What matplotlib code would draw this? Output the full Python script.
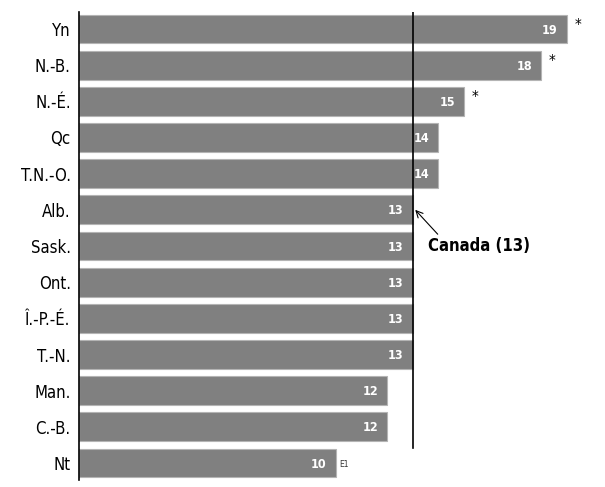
import matplotlib.pyplot as plt

# données
provinces = ['Yn', 'N.-B.', 'N.-É.', 'Qc', 'T.N.-O.', 'Alb.', 'Sask.', 'Ont.',
             'Î.-P.-É.', 'T.-N.', 'Man.', 'C.-B.', 'Nt']
valeurs = [19, 18, 15, 14, 14, 13, 13, 13, 13, 13, 12, 12, 10]
etoiles = ['*', '*', '*', '', '', '', '', '', '', '', '', '', '']
notes = ['', '', '', '', '', '', '', '', '', '', '', '', 'E1']
canada = 13

plt.rcParams['font.family'] = ['DejaVu Sans']
plt.rcParams['font.stretch'] = 'condensed'

fig = plt.figure(figsize=(6.05, 4.87), dpi=100)
ax = fig.add_axes([79 / 605, 7 / 487, 521 / 605, 468 / 487])

pos = list(range(len(provinces)))
ax.barh(pos, valeurs, height=0.8, color='#808080', edgecolor='#b4b4b4', linewidth=0.8)

for i, v in enumerate(valeurs):
    ax.text(v - 0.35, i + 0.03, str(v), color='white', ha='right', va='center',
            fontsize=9, fontweight='bold')
    if etoiles[i]:
        ax.text(v + 0.3, i - 0.1, etoiles[i], color='black', ha='left', va='center', fontsize=11)
    if notes[i]:
        ax.text(v + 0.15, i + 0.05, notes[i], color='#333333', ha='left', va='center', fontsize=6)

ax.plot([canada, canada], [-0.47, 11.58], color='black', lw=1.2)
ax.annotate('Canada (13)', xy=(canada + 0.1, 5), xytext=(canada + 0.6, 6.0),
            fontsize=12, fontweight='bold', ha='left', va='center',
            arrowprops=dict(arrowstyle='->', color='black', lw=0.8, shrinkA=0, shrinkB=0,
                            relpos=(0.12, 1.0)))

ax.set_xlim(0, 20.3)
ax.set_ylim(12.47, -0.47)
ax.set_yticks(pos)
ax.set_yticklabels(provinces, fontsize=12)
ax.tick_params(axis='y', length=0, pad=6)
ax.set_xticks([])
for s in ['top', 'right', 'bottom']:
    ax.spines[s].set_visible(False)
ax.spines['left'].set_linewidth(1.2)

fig.savefig('out.png', dpi=100)
